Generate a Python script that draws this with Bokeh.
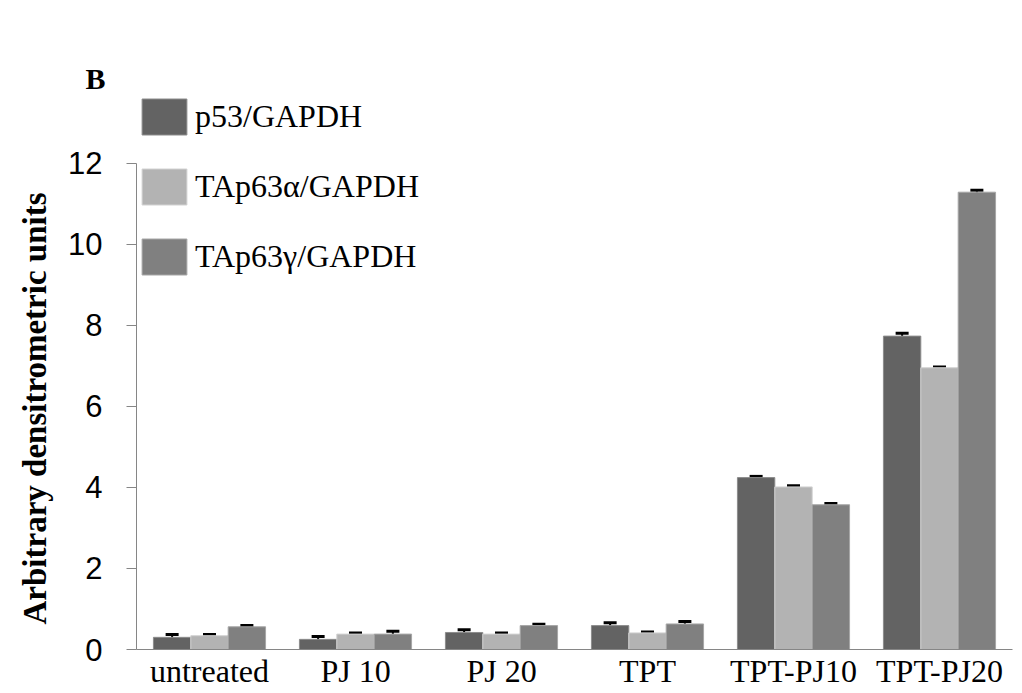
from bokeh.plotting import figure
from bokeh.models import (ColumnDataSource, FactorRange, Range1d, FixedTicker,
                          Whisker, TeeHead, Legend, LegendItem, CategoricalAxis,
                          Title)
from bokeh.transform import dodge
from bokeh.embed import file_html
from bokeh.resources import INLINE

# ---- data ----
categories = ["untreated", "PJ 10", "PJ 20", "TPT", "TPT-PJ10", "TPT-PJ20"]
series_names = ["p53/GAPDH", "TAp63\u03b1/GAPDH", "TAp63\u03b3/GAPDH"]
p53 = [0.30, 0.25, 0.42, 0.59, 4.24, 7.73]
tap63a = [0.34, 0.38, 0.38, 0.41, 4.01, 6.95]
tap63g = [0.56, 0.38, 0.59, 0.63, 3.57, 11.28]
p53_err = [0.07, 0.07, 0.07, 0.07, 0.03, 0.07]
tap63a_err = [0.03, 0.03, 0.03, 0.02, 0.03, 0.02]
tap63g_err = [0.03, 0.07, 0.03, 0.06, 0.03, 0.05]
y_ticks = [0, 2, 4, 6, 8, 10, 12]
panel_letter = "B"
y_title = "Arbitrary densitrometric units"

fills = ["#636363", "#b3b3b3", "#808080"]
edges = ["#8c8c8c", "#d2d2d2", "#a6a6a6"]
offsets = [-0.256, 0.0, 0.256]
bar_w = 0.256

p = figure(x_range=FactorRange(*categories), y_range=Range1d(0, 13.69),
           width=1022, height=693, output_backend="svg", toolbar_location=None,
           min_border_left=136, min_border_right=10, min_border_top=94,
           min_border_bottom=44)
p.xgrid.grid_line_color = None
p.ygrid.grid_line_color = None
p.outline_line_color = None
p.x_range.range_padding = 0

xa = p.below[0]
ax = p.left[0]

# empty spacer axis (no ticks, no line) between frame and panel letter
spacer = CategoricalAxis(ticker=FixedTicker(ticks=[]),
                         axis_line_color=None, major_tick_line_color=None,
                         minor_tick_line_color=None, major_tick_out=57,
                         major_tick_in=0, minor_tick_out=0, minor_tick_in=0)
p.add_layout(spacer, "above")

p.title.text = panel_letter
p.title.text_font = "Liberation Serif"
p.title.text_font_style = "bold"
p.title.text_font_size = "30px"
p.title.text_line_height = 1.0
p.title.text_color = "black"
p.title.align = "left"
p.title.offset = -51
p.title.standoff = 0

renderers = []
for vals, errs, fc, ec, off in zip([p53, tap63a, tap63g],
                                   [p53_err, tap63a_err, tap63g_err],
                                   fills, edges, offsets):
    src = ColumnDataSource(dict(cat=categories, val=vals,
                                upper=[v + e for v, e in zip(vals, errs)],
                                lower=[v - e for v, e in zip(vals, errs)]))
    r = p.vbar(x=dodge("cat", off, range=p.x_range), top="val", width=bar_w,
               source=src, fill_color=fc, line_color=ec, line_width=1)
    renderers.append(r)
    w = Whisker(base=dodge("cat", off, range=p.x_range), upper="upper",
                lower="lower", source=src, line_color="black", line_width=2,
                upper_head=TeeHead(size=13, line_width=3, line_color="black"),
                lower_head=TeeHead(size=13, line_width=3, line_color="black"))
    p.add_layout(w)

legend = Legend(items=[LegendItem(label=n, renderers=[r])
                       for n, r in zip(series_names, renderers)],
                location="top_left", glyph_width=56, glyph_height=45,
                label_standoff=3, spacing=25, padding=1, margin=0,
                border_line_color=None, background_fill_alpha=0,
                label_text_font="Liberation Serif", label_text_font_size="32px",
                label_text_color="black")
p.add_layout(legend)

# y axis
ax.ticker = FixedTicker(ticks=y_ticks)
ax.bounds = (0, 12)
ax.axis_line_color = "#868686"
ax.major_tick_line_color = "#868686"
ax.major_tick_out = 10
ax.major_tick_in = 0
ax.minor_tick_line_color = None
ax.major_label_standoff = 24
ax.major_label_text_font = "Liberation Sans"
ax.major_label_text_font_size = "31px"
ax.major_label_text_color = "black"

ytitle = Title(text=y_title, align="left", offset=25, standoff=26,
               text_font="Liberation Serif", text_font_style="bold",
               text_font_size="33px", text_line_height=1.0, text_color="black")
p.add_layout(ytitle, "left")

# x axis
xa.axis_line_color = "#868686"
xa.major_tick_line_color = None
xa.major_tick_out = 0
xa.major_tick_in = 0
xa.minor_tick_line_color = None
xa.major_label_standoff = 3
xa.major_label_text_font = "Liberation Serif"
xa.major_label_text_font_size = "32px"
xa.major_label_text_line_height = 1.0
xa.major_label_text_color = "black"

open("out.html", "w").write(file_html(p, INLINE))
